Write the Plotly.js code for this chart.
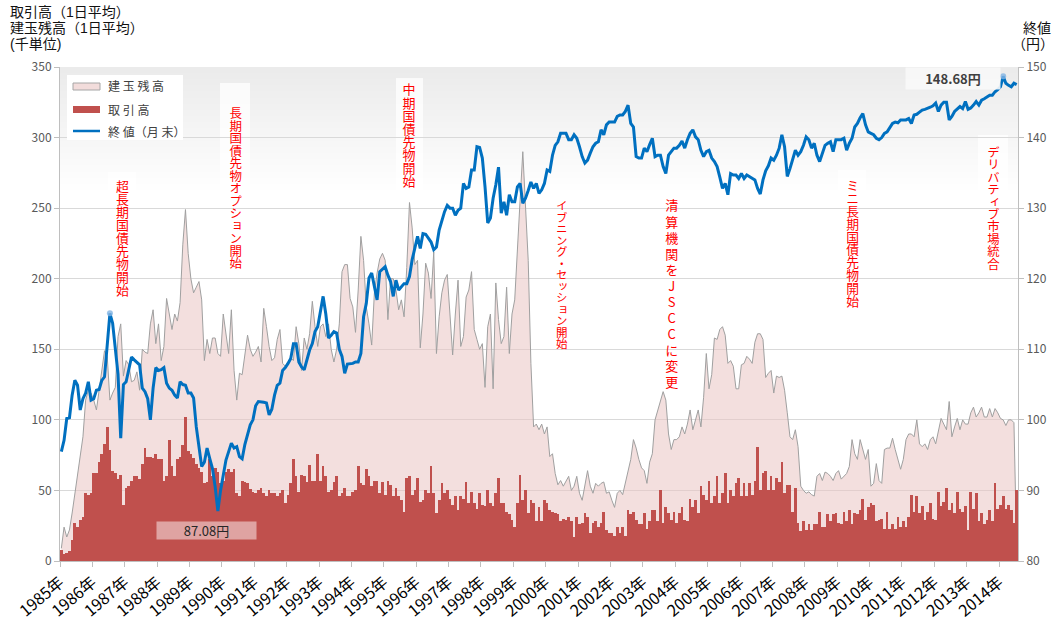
<!DOCTYPE html>
<html><head><meta charset="utf-8">
<script src="https://cdn.plot.ly/plotly-3.0.1.min.js"></script>
<style>html,body{margin:0;padding:0;background:#fff}#wrap{position:relative;width:1057px;height:630px}#chart{width:1057px;height:630px}
.vlab{position:absolute;z-index:10;writing-mode:vertical-rl;text-orientation:upright;line-height:1;color:#ff0000;white-space:nowrap;font-family:"Noto Sans CJK JP","Noto Sans",sans-serif}
.vlab span{display:inline}
.ttl{position:absolute;z-index:10;height:16px;line-height:16px;font-size:14px;color:#111;white-space:nowrap;font-family:"Liberation Sans","Noto Sans CJK JP",sans-serif}</style>
</head><body><div id="wrap"><div id="chart"></div></div>
<script>
// ---------- DATA (monthly, from Oct 1985) ----------
const years = ['1985年','1986年','1987年','1988年','1989年','1990年','1991年','1992年','1993年','1994年',
  '1995年','1996年','1997年','1998年','1999年','2000年','2001年','2002年','2003年','2004年',
  '2005年','2006年','2007年','2008年','2009年','2010年','2011年','2012年','2013年','2014年'];

// 終値(月末) 円
const closePrice = [
 95.5,97.1,100.2,100.3,103.5,105.6,104.9,101.4,103.0,103.8,
 105.4,102.8,103.0,104.2,104.3,105.6,106.1,110.4,115.1,113.7,
 109.9,106.5,97.4,105.0,105.4,107.0,108.9,108.5,108.2,107.8,
 104.5,104.0,103.0,100.0,104.5,107.4,107.0,107.1,107.4,105.2,
 104.5,104.2,103.5,103.1,105.4,105.0,104.9,103.8,103.8,103.1,
 99.0,96.2,93.4,94.0,96.0,94.5,93.1,90.5,87.08,90.0,
 92.4,94.3,95.5,96.7,96.0,96.2,94.8,94.5,96.5,98.1,
 99.3,100.0,102.0,102.6,102.6,102.5,102.4,100.7,101.5,103.5,
 104.9,105.2,107.0,107.4,108.0,108.7,110.8,110.8,108.2,107.5,
 107.1,108.5,109.9,110.8,112.5,113.2,115.5,117.5,115.0,111.6,
 112.0,112.5,112.3,110.0,109.0,106.6,107.9,107.9,108.0,108.2,
 108.2,109.4,114.6,116.5,120.1,120.8,119.0,117.0,121.0,121.3,
 121.7,120.5,119.6,117.5,119.8,118.4,118.9,119.3,119.3,120.3,
 122.7,124.5,126.0,124.3,126.4,126.3,125.8,125.2,124.1,124.5,
 126.9,128.3,129.5,130.4,130.0,130.0,129.0,129.7,130.0,133.5,
 132.8,133.0,135.4,135.4,138.7,138.6,137.1,133.0,127.9,128.6,
 131.4,133.3,135.8,129.3,130.9,129.0,131.9,130.9,130.9,133.0,
 133.5,130.7,131.4,132.5,133.7,132.8,133.5,132.1,132.6,133.5,
 135.4,135.2,137.5,138.9,139.4,140.6,140.6,140.6,139.7,139.7,
 140.4,139.9,138.7,137.3,136.4,136.8,137.8,138.7,139.2,139.4,
 141.1,140.4,141.8,142.2,142.2,142.2,143.0,143.2,143.2,143.7,
 144.6,142.0,141.5,137.3,137.1,137.1,138.5,138.0,139.0,139.9,
 137.3,137.5,137.5,135.9,134.9,137.5,138.0,138.5,138.5,138.9,
 139.5,138.5,139.7,140.6,141.1,140.1,139.7,138.2,137.3,138.0,
 138.2,137.1,136.6,135.9,134.4,132.8,133.5,131.9,134.9,134.7,
 134.7,134.2,134.9,134.2,134.7,134.5,134.2,134.0,132.8,132.0,
 134.0,135.3,136.0,137.1,136.8,137.5,138.5,140.4,138.7,134.5,
 135.6,136.8,138.2,137.5,138.0,138.9,140.1,139.7,138.5,139.2,
 137.5,136.6,137.8,138.9,139.2,139.4,138.0,139.7,139.7,139.7,
 139.9,138.2,139.2,139.9,141.5,142.0,142.8,143.4,141.8,140.8,
 140.6,140.4,139.9,139.7,140.0,140.6,140.8,141.5,142.0,142.2,
 142.1,142.5,142.5,142.5,142.7,142.0,143.2,143.3,143.6,143.9,
 144.0,144.1,144.3,144.5,144.9,143.7,144.6,145.0,145.0,142.5,
 143.0,143.7,144.0,144.4,144.1,145.1,144.0,144.2,144.6,145.1,
 144.6,145.3,145.5,145.8,146.0,146.0,146.5,146.8,147.2,148.68,
 147.7,147.4,147.2,147.7,147.5];

// 建玉残高(1日平均) 千単位
const openInterest = [
 9,24,17,22,34,48,60,76,88,114,
 121,119,114,107,121,133,149,145,114,119,
 123,159,168,131,142,139,127,128,134,121,
 150,148,147,168,178,154,168,142,152,186,
 175,164,175,170,183,224,249,218,200,190,
 194,198,185,142,157,147,158,158,147,145,
 175,160,147,178,135,114,133,132,147,160,
 150,145,148,152,141,179,166,152,142,144,
 157,164,140,138,141,144,142,166,154,135,
 158,150,161,184,166,152,166,168,159,168,
 150,141,150,168,205,210,210,186,180,162,
 192,230,213,180,168,153,190,204,214,218,
 213,171,200,200,192,178,185,173,208,254,
 236,210,213,151,175,211,204,186,219,147,
 173,190,199,203,175,146,175,199,152,159,
 187,192,205,164,157,150,154,123,166,175,
 122,197,171,154,159,194,147,175,185,225,
 256,290,250,213,140,95,97,93,97,90,
 95,74,76,62,54,57,53,57,60,50,
 53,60,48,43,53,64,53,48,55,53,
 55,56,48,49,43,38,48,50,47,55,
 64,72,86,80,72,66,64,55,70,76,
 100,107,114,120,114,90,79,86,86,88,
 95,90,97,107,93,100,107,95,116,147,
 122,132,158,157,164,166,160,140,142,138,
 122,122,139,140,145,143,140,155,161,161,
 157,130,133,135,119,131,130,131,121,105,
 88,86,93,81,53,50,48,49,47,46,
 60,62,57,63,62,60,57,62,64,58,
 60,62,67,86,76,72,86,79,72,79,
 53,55,69,57,55,79,80,80,87,79,
 72,65,72,86,90,90,88,100,83,81,
 83,79,86,88,83,93,101,97,93,113,
 88,95,101,93,100,97,97,105,109,102,
 105,109,102,102,108,102,108,105,101,100,
 96,100,100,98,10];

// 取引高(1日平均) 千単位
const volume = [
 8,5,6,7,15,27,24,29,31,48,
 47,48,62,62,70,76,83,95,79,64,
 62,58,61,40,52,53,57,60,60,58,
 69,80,74,74,73,76,72,72,57,60,
 86,67,60,72,74,82,102,78,76,73,
 69,66,63,55,56,72,60,66,63,55,
 57,63,65,63,65,48,46,57,56,55,
 51,49,48,50,52,48,46,50,48,48,
 46,48,50,41,47,55,72,60,49,61,
 60,56,68,57,57,76,57,67,60,49,
 50,56,60,46,48,52,46,46,49,50,
 67,55,54,65,60,53,57,57,48,56,
 47,57,54,46,52,46,43,35,59,60,
 47,50,59,42,43,50,48,67,48,34,
 43,55,48,50,44,40,46,36,46,44,
 56,41,49,41,37,48,40,39,50,41,
 39,48,59,41,41,35,33,29,24,41,
 61,43,50,34,43,41,28,38,28,43,
 41,36,35,34,33,28,30,29,31,28,
 17,31,26,27,34,31,20,27,28,24,
 27,35,22,20,20,18,24,20,24,18,
 36,33,35,29,26,26,34,23,28,36,
 36,28,50,27,38,34,29,35,27,34,
 38,29,28,44,38,43,34,53,47,43,
 57,41,46,60,41,48,62,41,50,46,
 55,59,46,55,46,55,47,57,81,50,
 62,64,50,60,50,59,56,70,48,54,
 54,35,52,27,21,28,22,26,22,26,
 26,35,24,24,33,28,33,34,27,26,
 35,28,36,26,34,33,36,44,29,38,
 41,40,28,29,30,23,35,23,26,23,
 31,24,28,24,31,47,35,46,34,39,
 29,35,41,30,29,49,39,42,52,36,
 41,34,49,37,35,39,22,49,37,48,
 28,34,26,29,36,28,55,37,40,46,
 37,40,36,27,50];

const eventLabels = ['超長期国債先物開始','長期国債先物オプション開始','中期国債先物開始',
  'イブニング・セッション開始','清算機関をJSCCに変更','ミニ長期国債先物開始','デリバティブ市場統合'];
const legendLabels = ['建 玉 残 高','取 引 高','終 値（月 末）'];
const leftTitles = ['取引高（1日平均）','建玉残高（1日平均）','(千単位)'];
const rightTitles = ['終値','（円）'];
const minLabel = '87.08円';
const maxLabel = '148.68円';
const peakIdx = [18, 349];

// ---------- LAYOUT HELPERS ----------
const W = 1057, H = 630, ML = 60, MR = 39, MT = 67, MB = 69;
const PW = W - ML - MR, PH = H - MT - MB;
const px = v => (v - ML) / PW;          // pixel x -> paper
const py = v => (H - MB - v) / PH;      // pixel y -> paper
const FONT = '"Noto Sans CJK JP", "Noto Sans", sans-serif';

const months = closePrice.map((_, i) => i);
const N = months.length;

const traces = [
  { x: months, y: openInterest, type: 'scatter', mode: 'lines', fill: 'tozeroy',
    fillcolor: 'rgba(234,196,195,0.55)', line: { color: '#a0a0a0', width: 1 },
    yaxis: 'y', hoverinfo: 'skip', showlegend: false },
  { x: months, y: volume, type: 'bar', marker: { color: '#c0504d', line: { width: 0 } },
    yaxis: 'y2', hoverinfo: 'skip', showlegend: false },
  { x: months, y: closePrice, type: 'scatter', mode: 'lines',
    line: { color: '#0070c0', width: 3 }, yaxis: 'y3', hoverinfo: 'skip', showlegend: false },
  { x: peakIdx, y: peakIdx.map(i => closePrice[i]), type: 'scatter', mode: 'markers',
    marker: { color: 'rgba(130,180,228,0.8)', size: 6, line: { width: 0 } },
    yaxis: 'y3', hoverinfo: 'skip', showlegend: false }
];

const shapes = [];
// soft grey gradient at the top of the plot area
for (let k = 1; k <= 20; k++) {
  shapes.push({ type: 'rect', xref: 'paper', yref: 'paper', x0: 0, x1: 1, y0: 1 - k * 0.0125, y1: 1,
    fillcolor: 'rgba(0,0,0,0.0035)', line: { width: 0 }, layer: 'below' });
}
// white boxes behind event labels
const boxes = [[108,136,172,305],[220,250,83,280],[396,423,78,193],[838,866,170,312],[978,1008,135,280]];
boxes.forEach(b => shapes.push({ type: 'rect', xref: 'paper', yref: 'paper',
  x0: px(b[0]), x1: px(b[1]), y0: py(b[3]), y1: py(b[2]),
  fillcolor: 'rgba(255,255,255,0.75)', line: { width: 0 }, layer: 'between' }));
// legend
shapes.push({ type: 'rect', xref: 'paper', yref: 'paper', x0: px(67), x1: px(183), y0: py(140), y1: py(75),
  fillcolor: '#ffffff', line: { width: 0 }, layer: 'above' });
shapes.push({ type: 'rect', xref: 'paper', yref: 'paper', x0: px(73), x1: px(100), y0: py(90), y1: py(83),
  fillcolor: '#f2dcdb', line: { color: '#a6a6a6', width: 1 }, layer: 'above' });
shapes.push({ type: 'rect', xref: 'paper', yref: 'paper', x0: px(73), x1: px(100), y0: py(113), y1: py(106),
  fillcolor: '#c0504d', line: { width: 0 }, layer: 'above' });
shapes.push({ type: 'line', xref: 'paper', yref: 'paper', x0: px(73), x1: px(100), y0: py(131), y1: py(131),
  line: { color: '#0070c0', width: 2.5 }, layer: 'above' });

const annotations = [];
const legY = [86, 109, 131];
legendLabels.forEach((t, i) => annotations.push({ text: t, x: px(106), y: py(legY[i]), xref: 'paper', yref: 'paper',
  showarrow: false, xanchor: 'left', yanchor: 'middle', font: { family: FONT, size: 12, color: '#404040' } }));

// min / max value labels
annotations.push({ text: minLabel, x: px(206.5), y: py(530), xref: 'paper', yref: 'paper', showarrow: false,
  xanchor: 'center', yanchor: 'middle', width: 97, height: 15, bgcolor: '#dfa3a2',
  font: { family: FONT, size: 13, color: '#262626' } });
annotations.push({ text: maxLabel, x: px(953), y: py(78), xref: 'paper', yref: 'paper', showarrow: false,
  xanchor: 'center', yanchor: 'middle', width: 92, height: 19, bgcolor: 'rgba(248,248,248,0.9)',
  font: { family: FONT, size: 13, color: '#404040', weight: 'bold' } });

const axisCommon = { showline: true, linecolor: '#bfbfbf', linewidth: 1, ticks: 'outside', ticklen: 5,
  tickcolor: '#bfbfbf', zeroline: false, automargin: false, fixedrange: true };

const layout = {
  width: W, height: H, margin: { l: ML, r: MR, t: MT, b: MB, pad: 0 },
  paper_bgcolor: '#ffffff', plot_bgcolor: '#ffffff', showlegend: false, bargap: 0,
  font: { family: FONT },
  xaxis: Object.assign({}, axisCommon, { range: [-0.5, N - 0.5], tickmode: 'array',
    tickvals: years.map((_, k) => k * 12 - 0.5), ticktext: years, tickangle: -40,
    tickfont: { family: FONT, size: 16, color: '#000000' }, showgrid: false }),
  yaxis: Object.assign({}, axisCommon, { range: [0, 350], dtick: 50, showgrid: true, gridcolor: '#d9d9d9',
    gridwidth: 1, tickfont: { family: FONT, size: 12, color: '#595959' } }),
  yaxis2: { overlaying: 'y', range: [0, 350], visible: false, fixedrange: true },
  yaxis3: Object.assign({}, axisCommon, { overlaying: 'y', side: 'right', range: [80, 150], dtick: 10,
    showgrid: false, tickfont: { family: FONT, size: 12, color: '#595959' } }),
  shapes, annotations
};

Plotly.newPlot('chart', traces, layout, { staticPlot: true, displayModeBar: false }).then(() => {
  const wrap = document.getElementById('wrap');
  // axis titles (one 16px line each)
  leftTitles.forEach((t, i) => {
    const d = document.createElement('div');
    d.className = 'ttl'; d.textContent = t;
    d.style.left = '10px'; d.style.top = (4 + i * 16) + 'px';
    wrap.appendChild(d);
  });
  rightTitles.forEach((t, i) => {
    const d = document.createElement('div');
    d.className = 'ttl'; d.textContent = t;
    d.style.right = (i === 0 ? 6 : 3) + 'px'; d.style.top = (20 + i * 16) + 'px';
    wrap.appendChild(d);
  });
  // vertical red event labels (tategaki), one span per character
  // [centre x px, centre y of first character px, font size px, extra spacing px]
  const eventPos = [[121.5,186.7,12.9,0],[235,113.3,12.5,0],[409,90,13,0.1],
    [561,205.7,11.5,0],[671.7,206.7,13,3.05],[851.7,185,12.8,0],[993.3,151.7,12.4,0]];
  eventLabels.forEach((s, e) => {
    const [cx, top, fs, ls] = eventPos[e];
    const d = document.createElement('div');
    d.className = 'vlab';
    d.style.fontSize = fs + 'px';
    d.style.letterSpacing = ls + 'px';
    d.style.left = (cx - fs / 2) + 'px';
    d.style.top = (top - (fs + ls) / 2) + 'px';
    Array.from(s).forEach(ch => {
      const sp = document.createElement('span');
      sp.textContent = ch;
      d.appendChild(sp);
    });
    wrap.appendChild(d);
  });
});
</script></body></html>
